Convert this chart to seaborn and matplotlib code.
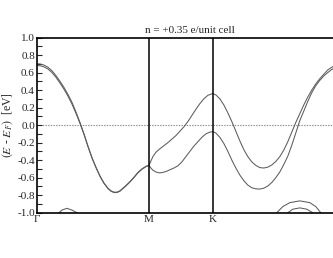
import numpy as np
import pandas as pd
import matplotlib
matplotlib.use("Agg")
import matplotlib.pyplot as plt
import seaborn as sns

# k-path positions (units of 2pi/a): Gamma, M, K, Gamma (right Gamma lies beyond the crop)
kpoint_labels = ["Γ", "M", "K"]
kpoint_pos = [0.0, 0.577, 0.907, 1.572]

# abscissa read in picture pixels, converted to k (k = (x-37)*0.00515)
def k_of(xs):
    return [(x - 37.0) * 0.00515 for x in xs]

bandA_x = [37, 40, 44, 48, 52, 56, 60, 64, 68, 72, 76, 80, 84, 88, 92, 96, 100, 104, 108,
           111, 114, 117, 120, 123, 126, 130, 134, 138, 142, 146, 149,
           151, 153, 156, 160, 164, 168, 172, 176, 180, 184, 188, 192, 196, 200, 204, 208,
           212.7, 216, 220, 224, 228, 232, 236, 240, 244, 248, 252, 256, 260, 264, 268, 272,
           276, 280, 284, 288, 292, 296, 300, 304, 308, 312, 316, 320, 324, 328, 332, 336,
           339, 342]
bandA_E = [0.70, 0.698, 0.685, 0.66, 0.62, 0.565, 0.50, 0.43, 0.35, 0.26, 0.15, 0.03,
           -0.10, -0.24, -0.37, -0.48, -0.58, -0.66, -0.72, -0.75, -0.765, -0.765, -0.75,
           -0.72, -0.69, -0.645, -0.595, -0.54, -0.50, -0.47, -0.46,
           -0.41, -0.36, -0.31, -0.27, -0.235, -0.20, -0.16, -0.12, -0.07, -0.02, 0.04, 0.11,
           0.18, 0.245, 0.30, 0.34, 0.36, 0.345, 0.30, 0.23, 0.14, 0.04, -0.07, -0.18, -0.28,
           -0.36, -0.42, -0.46, -0.485, -0.49, -0.48, -0.455, -0.415, -0.36, -0.285, -0.19,
           -0.08, 0.03, 0.13, 0.23, 0.32, 0.40, 0.47, 0.53, 0.58, 0.63, 0.66, 0.685, 0.697,
           0.70]

bandB_x = [37, 40, 44, 48, 52, 56, 60, 64, 68, 72, 76, 80, 84, 88, 92, 96, 100, 104, 108,
           111, 114, 117, 120, 123, 126, 130, 134, 138, 142, 146, 149,
           151, 153, 156, 159, 162, 166, 170, 174, 178, 182, 186, 190, 194, 198, 202, 206,
           210, 212.7, 216, 220, 224, 228, 232, 236, 240, 244, 248, 252, 256, 260, 264, 268,
           272, 276, 280, 284, 288, 292, 296, 300, 304, 308, 312, 316, 320, 324, 328, 332,
           336, 339, 342]
bandB_E = [0.68, 0.678, 0.665, 0.64, 0.60, 0.545, 0.48, 0.41, 0.33, 0.24, 0.135, 0.02,
           -0.105, -0.245, -0.375, -0.485, -0.585, -0.665, -0.725, -0.755, -0.77, -0.77,
           -0.755, -0.725, -0.695, -0.65, -0.60, -0.545, -0.505, -0.475, -0.46,
           -0.49, -0.515, -0.535, -0.545, -0.543, -0.53, -0.51, -0.49, -0.465, -0.42, -0.36,
           -0.30, -0.24, -0.19, -0.14, -0.10, -0.08, -0.075, -0.09, -0.14, -0.21, -0.30,
           -0.40, -0.49, -0.57, -0.635, -0.685, -0.715, -0.728, -0.73, -0.72, -0.695, -0.655,
           -0.60, -0.535, -0.45, -0.355, -0.23, -0.09, 0.05, 0.16, 0.27, 0.37, 0.45, 0.51,
           0.56, 0.60, 0.635, 0.66, 0.675, 0.68]

humpL_x = [55, 59, 62, 67, 72, 77, 80]
humpL_E = [-1.04, -1.0, -0.97, -0.95, -0.97, -1.0, -1.04]

humpR1_x = [273, 277, 283, 290, 300, 310, 316, 321, 325]
humpR1_E = [-1.04, -1.0, -0.93, -0.885, -0.865, -0.885, -0.93, -1.0, -1.04]

humpR2_x = [285, 288, 293, 300, 307, 313, 316]
humpR2_E = [-1.03, -1.0, -0.96, -0.945, -0.96, -1.0, -1.03]

ytick_vals = [1.0, 0.8, 0.6, 0.4, 0.2, 0.0, -0.2, -0.4, -0.6, -0.8, -1.0]

frames = []
for name, xs, es in [("A", bandA_x, bandA_E), ("B", bandB_x, bandB_E),
                     ("hL", humpL_x, humpL_E), ("hR1", humpR1_x, humpR1_E),
                     ("hR2", humpR2_x, humpR2_E)]:
    frames.append(pd.DataFrame({"k": k_of(xs), "E": es, "band": name}))
df = pd.concat(frames, ignore_index=True)

sns.set_style("ticks")
plt.rcParams["font.family"] = ["Liberation Serif", "DejaVu Serif"]
plt.rcParams["mathtext.fontset"] = "stix"

fig = plt.figure(figsize=(3.33, 2.58), dpi=100)
ax = fig.add_axes([37 / 333, 45.3 / 258, (342 - 37) / 333, 175.2 / 258])

palette = {b: "#5c5c5c" for b in df["band"].unique()}
sns.lineplot(data=df, x="k", y="E", hue="band", units="band", estimator=None,
             sort=False, palette=palette, legend=False, linewidth=0.75, ax=ax)

ax.axhline(0.0, color="#8a8a8a", linestyle=(0, (1.2, 1.2)), linewidth=0.8, zorder=0)
for kp in kpoint_pos[1:3]:
    ax.axvline(kp, color="black", linewidth=1.1)

ax.set_xlim(kpoint_pos[0], kpoint_pos[-1])
ax.set_ylim(-1.0, 1.0)
ax.set_xticks(kpoint_pos[:3])
ax.set_xticklabels(kpoint_labels, fontsize=8)
ax.set_yticks(ytick_vals)
ax.set_yticklabels([f"{v:.1f}" for v in ytick_vals], fontsize=8)
ax.set_yticks(np.arange(-1.0, 1.0001, 0.1), minor=True)
ax.tick_params(axis="y", which="both", direction="in", length=3.5, width=0.8, pad=1.5)
ax.tick_params(axis="x", which="major", direction="in", length=0, pad=2)
ax.set_xlabel("")
ax.set_ylabel(r"$(E$ - $E_F)$  [eV]", fontsize=8.5, labelpad=2)
ax.set_title("n = +0.35 e/unit cell", fontsize=8, pad=3)
for s in ax.spines.values():
    s.set_linewidth(1.2)
    s.set_color("black")

fig.savefig("out.png", dpi=100)
